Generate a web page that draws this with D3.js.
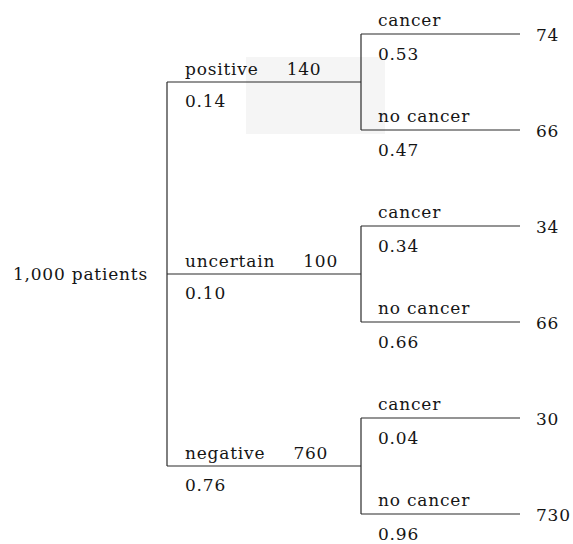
<!DOCTYPE html>
<html>
<head>
<meta charset="utf-8">
<script src="https://cdn.jsdelivr.net/npm/d3@7"></script>
<style>
  html, body { margin: 0; padding: 0; background: #fff; }
  svg { display: block; }
  text { font-family: "DejaVu Serif", "Liberation Serif", serif; font-size: 17px; fill: #151515; letter-spacing: 0.8px; }
</style>
</head>
<body>
<svg id="chart" width="573" height="544"></svg>
<script>
// ---- data ----
const rootLabel = "1,000 patients";
const testResults = ["positive", "uncertain", "negative"];
const testCounts = [140, 100, 760];
const testProbs = ["0.14", "0.10", "0.76"];
const outcomes = ["cancer", "no cancer"];
const outcomeProbs = [["0.53", "0.47"], ["0.34", "0.66"], ["0.04", "0.96"]];
const outcomeCounts = [[74, 66], [34, 66], [30, 730]];

// ---- build hierarchy ----
const treeData = {
  name: rootLabel,
  children: testResults.map((t, i) => ({
    name: t, count: testCounts[i], prob: testProbs[i],
    children: outcomes.map((o, j) => ({
      name: o, prob: outcomeProbs[i][j], count: outcomeCounts[i][j], id: t + "|" + o
    }))
  }))
};
const root = d3.hierarchy(treeData);
const leaves = root.leaves();

const svg = d3.select("#chart");

// scales
const y = d3.scalePoint().domain(leaves.map(d => d.data.id)).range([34, 514]);
const x = d3.scaleOrdinal().domain([0, 1, 2]).range([167, 361, 520]);

root.eachAfter(d => {
  d.py = d.children ? d3.mean(d.children, c => c.py) : y(d.data.id);
});

// scan-artifact shading around the "positive" branch
const pos = root.children[0];
svg.append("rect")
  .attr("x", x(1) - 115).attr("y", pos.py - 25)
  .attr("width", 139).attr("height", 77)
  .attr("fill", "#f5f5f5");

const g = svg.append("g");
const lineColor = "#2a2a2a";

// branch lines: vertical connector at parent x, horizontal run to child's x
root.descendants().filter(d => d.children).forEach(p => {
  const ys = p.children.map(c => c.py);
  g.append("line")
    .attr("x1", x(p.depth)).attr("x2", x(p.depth))
    .attr("y1", d3.min(ys)).attr("y2", d3.max(ys))
    .attr("stroke", lineColor).attr("stroke-width", 1.2);
  p.children.forEach(c => {
    g.append("line")
      .attr("x1", x(p.depth)).attr("x2", x(c.depth))
      .attr("y1", c.py).attr("y2", c.py)
      .attr("stroke", lineColor).attr("stroke-width", 1.2);
  });
});

// root label
g.append("text")
  .attr("x", x(0) - 19).attr("y", root.py + 6)
  .attr("text-anchor", "end")
  .text(root.data.name);

// level 1 labels
root.children.forEach(d => {
  const lx = x(0) + 18;
  const t = g.append("text").attr("x", lx).attr("y", d.py - 7).text(d.data.name);
  const w = t.node().getComputedTextLength();
  g.append("text").attr("x", lx + w + 28).attr("y", d.py - 7).text(d.data.count);
  g.append("text").attr("x", lx).attr("y", d.py + 25).text(d.data.prob);
});

// level 2 labels
leaves.forEach(d => {
  const lx = x(1) + 17;
  g.append("text").attr("x", lx).attr("y", d.py - 8).text(d.data.name);
  g.append("text").attr("x", lx).attr("y", d.py + 26).text(d.data.prob);
  g.append("text").attr("x", x(2) + 16).attr("y", d.py + 7).text(d.data.count);
});
</script>
</body>
</html>
